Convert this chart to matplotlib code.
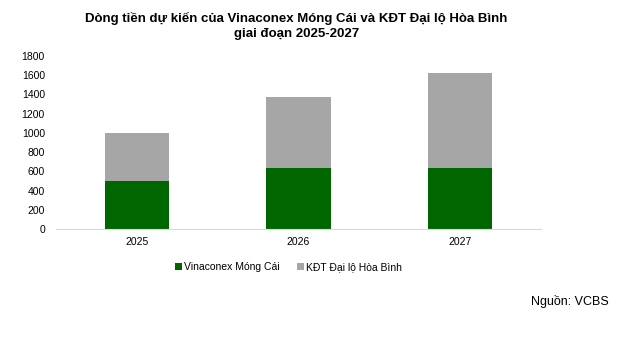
import matplotlib
matplotlib.use("Agg")
import matplotlib.pyplot as plt
import numpy as np

plt.rcParams['font.family'] = ['Liberation Sans', 'DejaVu Sans']

years = ['2025', '2026', '2027']
mong_cai = [500, 630, 630]
hoa_binh = [500, 740, 990]
series_names = ['Vinaconex Móng Cái', 'KĐT Đại lộ Hòa Bình']

fig = plt.figure(figsize=(6.44, 3.54), dpi=100)
ax = fig.add_axes([0.087, 0.353, 0.753, 0.489])

x = np.arange(len(years))
ax.bar(x, mong_cai, width=0.4, color='#006600', label=series_names[0])
ax.bar(x, hoa_binh, width=0.4, bottom=mong_cai, color='#A6A6A6', label=series_names[1])

ax.set_xlim(-0.5, 2.5)
ax.set_ylim(0, 1800)
ax.set_yticks(range(0, 1801, 200))
ax.set_xticks(x)
ax.set_xticklabels(years)
ax.tick_params(axis='both', length=0, labelsize=7.5, colors='#000000')
ax.tick_params(axis='y', pad=8)
ax.tick_params(axis='x', pad=6)
for s in ['top', 'right', 'left']:
    ax.spines[s].set_visible(False)
ax.spines['bottom'].set_color('#D9D9D9')

fig.text(0.46, 0.927, 'Dòng tiền dự kiến của Vinaconex Móng Cái và KĐT Đại lộ Hòa Bình\ngiai đoạn 2025-2027',
         ha='center', va='center', fontsize=9.5, fontweight='bold', linespacing=1.3)

fig.legend(loc='center', bbox_to_anchor=(0.448, 0.245), ncol=2, frameon=False, fontsize=7.5,
           handlelength=0.7, handleheight=0.7, handletextpad=0.2, columnspacing=1.6)

fig.text(0.945, 0.147, 'Nguồn: VCBS', ha='right', va='center', fontsize=9)

fig.savefig('out.png', dpi=100)
